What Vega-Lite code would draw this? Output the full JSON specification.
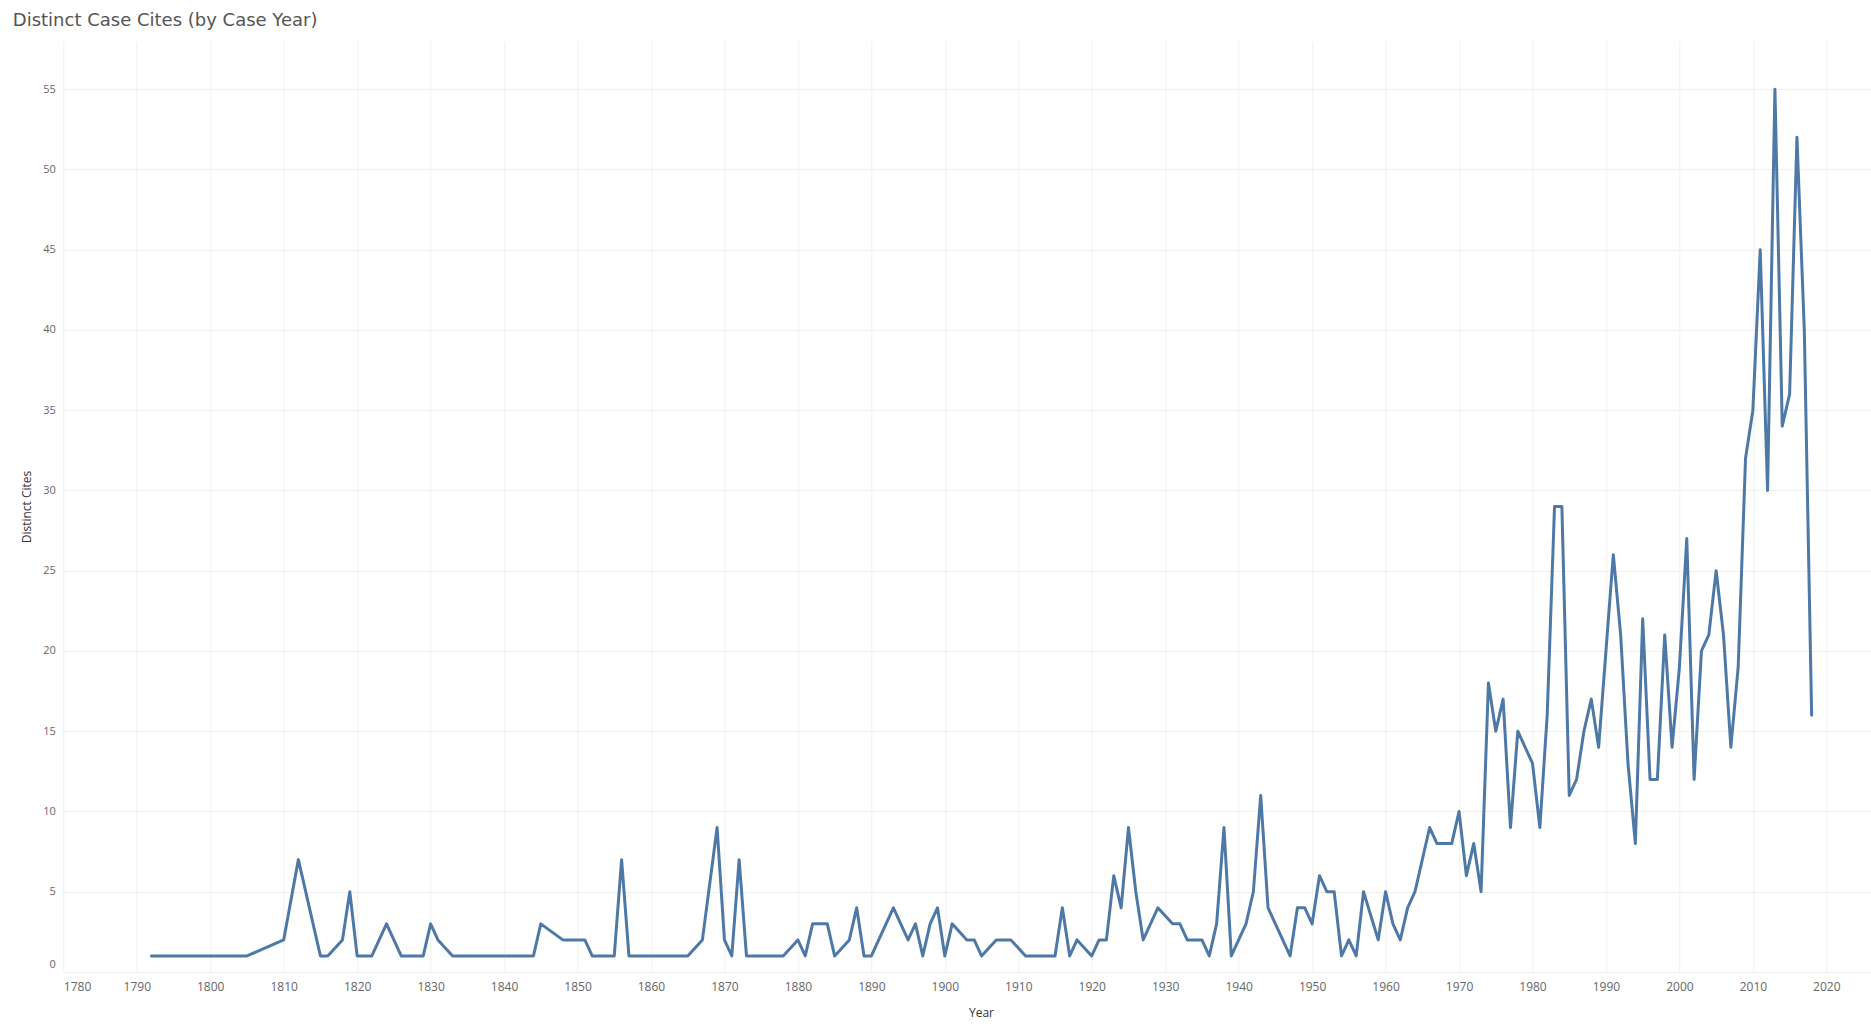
{
  "$schema": "https://vega.github.io/schema/vega-lite/v6.json",
  "autosize": {"type": "none"},
  "padding": {"left": 63.3, "top": 41, "right": -28.8, "bottom": 59},
  "width": 1836.5,
  "height": 931,
  "background": "#ffffff",
  "title": {
    "text": "Distinct Case Cites (by Case Year)",
    "anchor": "start",
    "frame": "group",
    "dx": -50.5,
    "dy": 17.5,
    "offset": 15,
    "baseline": "alphabetic",
    "font": "DejaVu Sans",
    "fontSize": 18,
    "fontWeight": "normal",
    "color": "#555555"
  },
  "config": {
    "view": {"stroke": null},
    "axis": {"labelFont": "Open Sans", "titleFont": "Open Sans"}
  },
  "data": {
    "values": [
      {"Year": 1792, "Cites": 1}, {"Year": 1805, "Cites": 1}, {"Year": 1810, "Cites": 2},
      {"Year": 1812, "Cites": 7}, {"Year": 1815, "Cites": 1}, {"Year": 1816, "Cites": 1},
      {"Year": 1818, "Cites": 2}, {"Year": 1819, "Cites": 5}, {"Year": 1820, "Cites": 1},
      {"Year": 1822, "Cites": 1}, {"Year": 1824, "Cites": 3}, {"Year": 1826, "Cites": 1},
      {"Year": 1829, "Cites": 1}, {"Year": 1830, "Cites": 3}, {"Year": 1831, "Cites": 2},
      {"Year": 1833, "Cites": 1}, {"Year": 1844, "Cites": 1}, {"Year": 1845, "Cites": 3},
      {"Year": 1848, "Cites": 2}, {"Year": 1851, "Cites": 2}, {"Year": 1852, "Cites": 1},
      {"Year": 1855, "Cites": 1}, {"Year": 1856, "Cites": 7}, {"Year": 1857, "Cites": 1},
      {"Year": 1865, "Cites": 1}, {"Year": 1867, "Cites": 2}, {"Year": 1869, "Cites": 9},
      {"Year": 1870, "Cites": 2}, {"Year": 1871, "Cites": 1}, {"Year": 1872, "Cites": 7},
      {"Year": 1873, "Cites": 1}, {"Year": 1878, "Cites": 1}, {"Year": 1880, "Cites": 2},
      {"Year": 1881, "Cites": 1}, {"Year": 1882, "Cites": 3}, {"Year": 1884, "Cites": 3},
      {"Year": 1885, "Cites": 1}, {"Year": 1887, "Cites": 2}, {"Year": 1888, "Cites": 4},
      {"Year": 1889, "Cites": 1}, {"Year": 1890, "Cites": 1}, {"Year": 1893, "Cites": 4},
      {"Year": 1895, "Cites": 2}, {"Year": 1896, "Cites": 3}, {"Year": 1897, "Cites": 1},
      {"Year": 1898, "Cites": 3}, {"Year": 1899, "Cites": 4}, {"Year": 1900, "Cites": 1},
      {"Year": 1901, "Cites": 3}, {"Year": 1903, "Cites": 2}, {"Year": 1904, "Cites": 2},
      {"Year": 1905, "Cites": 1}, {"Year": 1907, "Cites": 2}, {"Year": 1909, "Cites": 2},
      {"Year": 1911, "Cites": 1}, {"Year": 1915, "Cites": 1}, {"Year": 1916, "Cites": 4},
      {"Year": 1917, "Cites": 1}, {"Year": 1918, "Cites": 2}, {"Year": 1920, "Cites": 1},
      {"Year": 1921, "Cites": 2}, {"Year": 1922, "Cites": 2}, {"Year": 1923, "Cites": 6},
      {"Year": 1924, "Cites": 4}, {"Year": 1925, "Cites": 9}, {"Year": 1926, "Cites": 5},
      {"Year": 1927, "Cites": 2}, {"Year": 1928, "Cites": 3}, {"Year": 1929, "Cites": 4},
      {"Year": 1931, "Cites": 3}, {"Year": 1932, "Cites": 3}, {"Year": 1933, "Cites": 2},
      {"Year": 1935, "Cites": 2}, {"Year": 1936, "Cites": 1}, {"Year": 1937, "Cites": 3},
      {"Year": 1938, "Cites": 9}, {"Year": 1939, "Cites": 1}, {"Year": 1940, "Cites": 2},
      {"Year": 1941, "Cites": 3}, {"Year": 1942, "Cites": 5}, {"Year": 1943, "Cites": 11},
      {"Year": 1944, "Cites": 4}, {"Year": 1947, "Cites": 1}, {"Year": 1948, "Cites": 4},
      {"Year": 1949, "Cites": 4}, {"Year": 1950, "Cites": 3}, {"Year": 1951, "Cites": 6},
      {"Year": 1952, "Cites": 5}, {"Year": 1953, "Cites": 5}, {"Year": 1954, "Cites": 1},
      {"Year": 1955, "Cites": 2}, {"Year": 1956, "Cites": 1}, {"Year": 1957, "Cites": 5},
      {"Year": 1959, "Cites": 2}, {"Year": 1960, "Cites": 5}, {"Year": 1961, "Cites": 3},
      {"Year": 1962, "Cites": 2}, {"Year": 1963, "Cites": 4}, {"Year": 1964, "Cites": 5},
      {"Year": 1965, "Cites": 7}, {"Year": 1966, "Cites": 9}, {"Year": 1967, "Cites": 8},
      {"Year": 1969, "Cites": 8}, {"Year": 1970, "Cites": 10}, {"Year": 1971, "Cites": 6},
      {"Year": 1972, "Cites": 8}, {"Year": 1973, "Cites": 5}, {"Year": 1974, "Cites": 18},
      {"Year": 1975, "Cites": 15}, {"Year": 1976, "Cites": 17}, {"Year": 1977, "Cites": 9},
      {"Year": 1978, "Cites": 15}, {"Year": 1980, "Cites": 13}, {"Year": 1981, "Cites": 9},
      {"Year": 1982, "Cites": 16}, {"Year": 1983, "Cites": 29}, {"Year": 1984, "Cites": 29},
      {"Year": 1985, "Cites": 11}, {"Year": 1986, "Cites": 12}, {"Year": 1987, "Cites": 15},
      {"Year": 1988, "Cites": 17}, {"Year": 1989, "Cites": 14}, {"Year": 1990, "Cites": 20},
      {"Year": 1991, "Cites": 26}, {"Year": 1992, "Cites": 21}, {"Year": 1993, "Cites": 13},
      {"Year": 1994, "Cites": 8}, {"Year": 1995, "Cites": 22}, {"Year": 1996, "Cites": 12},
      {"Year": 1997, "Cites": 12}, {"Year": 1998, "Cites": 21}, {"Year": 1999, "Cites": 14},
      {"Year": 2000, "Cites": 19}, {"Year": 2001, "Cites": 27}, {"Year": 2002, "Cites": 12},
      {"Year": 2003, "Cites": 20}, {"Year": 2004, "Cites": 21}, {"Year": 2005, "Cites": 25},
      {"Year": 2006, "Cites": 21}, {"Year": 2007, "Cites": 14}, {"Year": 2008, "Cites": 19},
      {"Year": 2009, "Cites": 32}, {"Year": 2010, "Cites": 35}, {"Year": 2011, "Cites": 45},
      {"Year": 2012, "Cites": 30}, {"Year": 2013, "Cites": 55}, {"Year": 2014, "Cites": 34},
      {"Year": 2015, "Cites": 36}, {"Year": 2016, "Cites": 52}, {"Year": 2017, "Cites": 40},
      {"Year": 2018, "Cites": 16}
    ]
  },
  "mark": {"type": "line", "color": "#4e79a7", "strokeWidth": 3, "strokeJoin": "round", "strokeCap": "round"},
  "encoding": {
    "x": {
      "field": "Year",
      "type": "quantitative",
      "scale": {"domain": [1780, 2030], "nice": false, "zero": false},
      "axis": {
        "values": [1780, 1790, 1800, 1810, 1820, 1830, 1840, 1850, 1860, 1870, 1880, 1890, 1900, 1910, 1920, 1930, 1940, 1950, 1960, 1970, 1980, 1990, 2000, 2010, 2020, 2030],
        "format": "d",
        "title": "Year",
        "titleFontSize": 12,
        "titleFontWeight": "normal",
        "titleColor": "#333333",
        "titleX": 917.7,
        "titleY": 40,
        "titleBaseline": "middle",
        "titleAnchor": "start",
        "titleAlign": "center",
        "labelFlush": true,
        "labelFontSize": 12,
        "labelColor": "#666666",
        "labelPadding": 9,
        "ticks": false,
        "domain": false,
        "grid": true,
        "gridColor": "#f0f0f0",
        "gridWidth": 1
      }
    },
    "y": {
      "field": "Cites",
      "type": "quantitative",
      "scale": {"domain": [0, 58], "nice": false},
      "axis": {
        "values": [0, 5, 10, 15, 20, 25, 30, 35, 40, 45, 50, 55],
        "title": "Distinct Cites",
        "titleFontSize": 12,
        "titleFontWeight": "normal",
        "titleColor": "#333333",
        "titleX": -37,
        "titleY": 465.5,
        "titleAngle": -90,
        "titleBaseline": "middle",
        "titleAnchor": "start",
        "titleAlign": "center",
        "labelFlush": true,
        "labelFlushOffset": -3,
        "labelFontSize": 11,
        "labelColor": "#666666",
        "labelPadding": 8,
        "ticks": false,
        "domain": false,
        "grid": true,
        "gridColor": "#f0f0f0",
        "gridWidth": 1
      }
    }
  }
}
